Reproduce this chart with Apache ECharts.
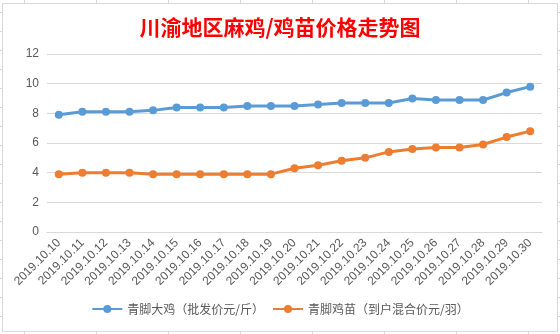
<!DOCTYPE html>
<html>
<head>
<meta charset="utf-8">
<script src="https://cdn.jsdelivr.net/npm/echarts@6/dist/echarts.min.js"></script>
<style>
  html, body { margin: 0; padding: 0; }
  body {
    width: 560px; height: 334px; position: relative; overflow: hidden;
    background-color: #fff;
    background-image:
      repeating-linear-gradient(to right, transparent 0, transparent 24px, #d9d9d9 24px, #d9d9d9 25px, transparent 25px, transparent 72px),
      repeating-linear-gradient(to bottom, transparent 0, transparent 12px, #d9d9d9 12px, #d9d9d9 13px, transparent 13px, transparent 19px);
  }
  #frame {
    position: absolute; left: 2px; top: 3px; width: 554px; height: 327px;
    background: #fff; border: 1px solid #d9d9d9;
  }
  #chart { position: absolute; left: 0; top: 0; width: 560px; height: 334px; }
</style>
</head>
<body>
<div id="frame"></div>
<div id="chart"></div>
<script>
const titleText = '川渝地区麻鸡/鸡苗价格走势图';
const categories = ['2019.10.10','2019.10.11','2019.10.12','2019.10.13','2019.10.14','2019.10.15','2019.10.16','2019.10.17','2019.10.18','2019.10.19','2019.10.20','2019.10.21','2019.10.22','2019.10.23','2019.10.24','2019.10.25','2019.10.26','2019.10.27','2019.10.28','2019.10.29','2019.10.30'];
const seriesNameA = '青脚大鸡（批发价元/斤）';
const seriesNameB = '青脚鸡苗（到户混合价元/羽）';
const valuesA = [7.9, 8.1, 8.1, 8.1, 8.2, 8.4, 8.4, 8.4, 8.5, 8.5, 8.5, 8.6, 8.7, 8.7, 8.7, 9.0, 8.9, 8.9, 8.9, 9.4, 9.8];
const valuesB = [3.9, 4.0, 4.0, 4.0, 3.9, 3.9, 3.9, 3.9, 3.9, 3.9, 4.3, 4.5, 4.8, 5.0, 5.4, 5.6, 5.7, 5.7, 5.9, 6.4, 6.8];

const chart = echarts.init(document.getElementById('chart'), null, { renderer: 'canvas' });
const fontFam = '"Noto Sans CJK SC", "Noto Sans", sans-serif';
chart.setOption({
  backgroundColor: 'transparent',
  animation: false,
  title: {
    text: titleText,
    left: 'center',
    top: 12,
    textStyle: { color: '#ff0000', fontSize: 21, fontWeight: 'bold', fontFamily: fontFam }
  },
  legend: {
    bottom: 14,
    left: 'center',
    itemWidth: 30,
    itemHeight: 10,
    itemGap: 8,
    textStyle: { color: '#595959', fontSize: 12, fontFamily: fontFam },
    data: [seriesNameA, seriesNameB]
  },
  grid: { left: 47, right: 18, top: 54, bottom: 102, containLabel: false },
  xAxis: {
    type: 'category',
    data: categories,
    boundaryGap: true,
    axisLine: { lineStyle: { color: '#d9d9d9', width: 1 } },
    axisTick: { show: false },
    axisLabel: { rotate: 45, color: '#595959', fontSize: 12, margin: 9, interval: 0, fontFamily: 'Liberation Sans, sans-serif' }
  },
  yAxis: {
    type: 'value',
    min: 0, max: 12, interval: 2,
    axisLine: { show: false },
    axisTick: { show: false },
    splitLine: { lineStyle: { color: '#d9d9d9', width: 1 } },
    axisLabel: { color: '#595959', fontSize: 12, margin: 8, fontFamily: 'Liberation Sans, sans-serif' }
  },
  series: [
    {
      name: seriesNameA, type: 'line', data: valuesA,
      symbol: 'circle', symbolSize: 8,
      lineStyle: { color: '#5B9BD5', width: 3 },
      itemStyle: { color: '#5B9BD5' }
    },
    {
      name: seriesNameB, type: 'line', data: valuesB,
      symbol: 'circle', symbolSize: 8,
      lineStyle: { color: '#ED7D31', width: 3 },
      itemStyle: { color: '#ED7D31' }
    }
  ]
});
</script>
</body>
</html>
